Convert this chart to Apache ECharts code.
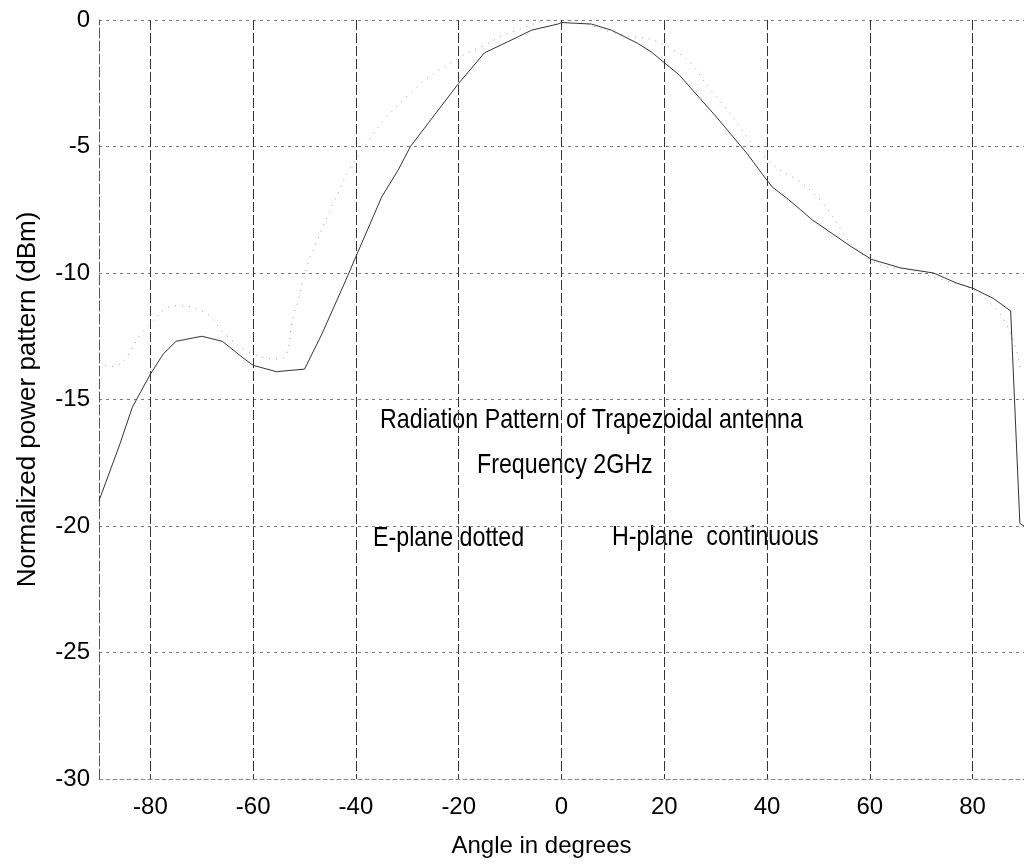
<!DOCTYPE html>
<html><head><meta charset="utf-8">
<script src="https://cdn.jsdelivr.net/npm/echarts@6/dist/echarts.min.js"></script>
<style>html,body{margin:0;padding:0;background:#fff}#c{width:1024px;height:865px}</style>
</head><body><div id="c"></div>
<script>
// H-plane (continuous) — angle in degrees, normalized power (dBm)
const hAngles = [-90,-86,-83.5,-80,-77.5,-75,-70,-66,-62,-60,-55.5,-50,-46.6,-42,-40,-35,-31.7,-29.4,-20,-15,-8.4,-5.8,-0.7,0,5.8,9.7,14.8,17.4,22.9,30,36.2,39.1,41,44.2,48.8,56.4,60.3,66,72.4,76.9,80,84,87.4,89.2,90];
const hValues = [-19.0,-16.8,-15.3,-14.0,-13.2,-12.7,-12.5,-12.7,-13.35,-13.65,-13.9,-13.8,-12.4,-10.3,-9.35,-7.0,-5.9,-5.0,-2.5,-1.3,-0.66,-0.4,-0.16,-0.1,-0.16,-0.4,-0.92,-1.25,-2.17,-3.8,-5.3,-6.1,-6.6,-7.1,-7.9,-8.96,-9.46,-9.8,-10.0,-10.4,-10.6,-11.0,-11.5,-19.9,-20.0];
// E-plane (dotted)
const eAngles = [-90,-88,-80,-75,-70,-65,-60,-55,-52,-49.5,-47.9,-45.4,-44.3,-40,-30,-20,-14.6,-10,0,10,21.6,30,40,48.8,60.3,70,84,89.3];
const eValues = [-13.5,-13.7,-12.0,-11.3,-11.5,-12.5,-13.2,-13.4,-11.6,-9.75,-8.9,-7.7,-7.2,-5.5,-3.0,-1.5,-0.96,-0.5,0,-0.5,-1.16,-3.0,-5.5,-6.8,-9.5,-10.0,-11.3,-13.9];
const xTicks = [-80,-60,-40,-20,0,20,40,60,80];
const notes = ['Radiation Pattern of Trapezoidal antenna','Frequency 2GHz','E-plane dotted','H-plane  continuous'];

const font = "'Liberation Sans',Arial,sans-serif";
const chart = echarts.init(document.getElementById('c'), null, {renderer:'canvas'});
const zip = (a,b)=>a.map((v,i)=>[v,b[i]]);
const note = (t,x,y)=>({type:'text',x:x,y:y,scaleX:0.83,scaleY:1,originX:0,originY:0,
  style:{text:t,x:0,y:0,font:'28px '+font,fill:'#000'}});
chart.setOption({
  animation:false,
  grid:{left:99,top:20,width:928,height:759,containLabel:false},
  xAxis:{type:'value',min:-90,max:90,
    name:'Angle in degrees',nameLocation:'middle',nameGap:55,
    nameTextStyle:{fontFamily:font,fontSize:24,color:'#000',padding:[0,40,0,0]},
    axisLine:{show:true,onZero:false,lineStyle:{color:'#888',type:[4,3]}},
    axisTick:{show:false,customValues:xTicks},
    axisLabel:{customValues:xTicks,fontFamily:font,fontSize:24,color:'#000',margin:16},
    splitLine:{show:true,lineStyle:{color:'#333',type:[10,3],width:1}}
  },
  yAxis:{type:'value',min:-30,max:0,interval:5,
    name:'Normalized power pattern (dBm)',nameLocation:'middle',nameGap:58,nameRotate:90,
    nameTextStyle:{fontFamily:font,fontSize:26,color:'#000'},
    axisLine:{show:true,onZero:false,lineStyle:{color:'#555',type:[10,3]}},
    axisTick:{show:false},
    axisLabel:{fontFamily:font,fontSize:24,color:'#000',margin:9},
    splitLine:{show:true,lineStyle:{color:'#777',type:[3,4],width:1}}
  },
  series:[
    {name:'H-plane',type:'line',data:zip(hAngles,hValues),showSymbol:false,smooth:false,
     lineStyle:{color:'#333',width:1},z:5},
    {name:'E-plane',type:'line',data:zip(eAngles,eValues),showSymbol:false,smooth:true,
     lineStyle:{color:'#999',width:1,type:[1,6]},z:4}
  ],
  graphic:[
    note(notes[0],380,406),
    note(notes[1],477,451),
    note(notes[2],373,524),
    note(notes[3],612,523)
  ]
});
</script></body></html>
